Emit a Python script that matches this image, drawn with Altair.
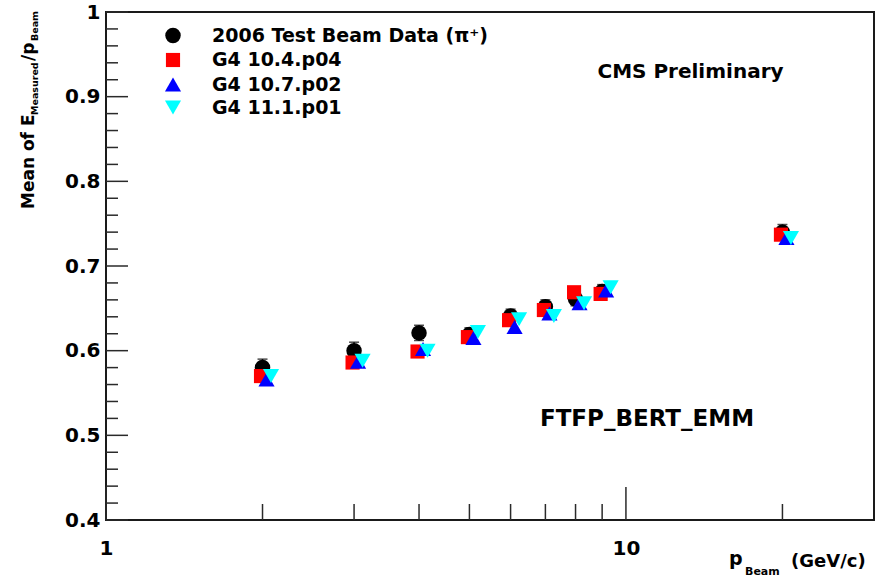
import altair as alt
import pandas as pd

# Beam momenta (GeV/c)
p_beam = [2, 3, 4, 5, 6, 7, 8, 9, 20]

# Mean of E_measured / p_beam
tb2006_mean = [0.580, 0.600, 0.621, 0.619, 0.641, 0.652, 0.661, 0.670, 0.740]
tb2006_err = [0.010, 0.010, 0.009, 0.008, 0.008, 0.008, 0.008, 0.008, 0.009]
g4_10_4 = [0.570, 0.586, 0.599, 0.616, 0.636, 0.648, 0.669, 0.667, 0.737]
g4_10_7 = [0.566, 0.587, 0.602, 0.615, 0.628, 0.644, 0.656, 0.671, 0.733]
g4_11_1 = [0.570, 0.588, 0.600, 0.622, 0.637, 0.641, 0.656, 0.675, 0.733]

series_names = ["2006 Test Beam Data (π⁺)", "G4 10.4.p04", "G4 10.7.p02", "G4 11.1.p01"]
series_values = [tb2006_mean, g4_10_4, g4_10_7, g4_11_1]
series_colors = ["#000000", "#ff0000", "#0000ff", "#00ffff"]
series_shapes = ["circle", "square", "triangle-up", "triangle-down"]
series_sizes = [240, 200, 260, 260]
series_dx = [0, -1.5, 4, 8.5]

# Axis tick positions
y_major = [0.4, 0.5, 0.6, 0.7, 0.8, 0.9, 1.0]
y_minor = [0.42, 0.44, 0.46, 0.48, 0.52, 0.54, 0.56, 0.58, 0.62, 0.64, 0.66, 0.68,
           0.72, 0.74, 0.76, 0.78, 0.82, 0.84, 0.86, 0.88, 0.92, 0.94, 0.96, 0.98]
x_major = [1, 10]
x_minor = [2, 3, 4, 5, 6, 7, 8, 9, 20]

FONT = "DejaVu Sans"
TICK = "#2a2a2a"
W, H = 768, 508

xs = alt.Scale(type="log", domain=[1, 30], nice=False)
ys = alt.Scale(domain=[0.4, 1.0], nice=False, zero=False)

x_axis = alt.Axis(values=x_major, format="d", title=None, grid=False, domain=False,
                  ticks=False, tickSize=0, labelPadding=18, labelFont=FONT,
                  labelFontWeight="bold", labelFontSize=20, labelColor="black",
                  labelFlush=False)
y_axis = alt.Axis(values=y_major, format="~g", title=None, grid=False, domain=False,
                  ticks=False, tickSize=0, labelPadding=6, labelFont=FONT,
                  labelFontWeight="bold", labelFontSize=20, labelColor="black",
                  labelBaseline="middle", labelFlush=False)


def X(field):
    return alt.X(field, type="quantitative", scale=xs, axis=x_axis)


def Y(field):
    return alt.Y(field, type="quantitative", scale=ys, axis=y_axis)


layers = []

# Inward tick marks on the left and bottom frame edges
for vals, length in [(y_major, 22), (y_minor, 12)]:
    layers.append(
        alt.Chart(pd.DataFrame({"v": vals}))
        .mark_rule(color=TICK, strokeWidth=1.5)
        .encode(y=Y("v"), x=alt.value(0), x2=alt.value(length))
    )
for vals, length in [(x_major, 33), (x_minor, 16)]:
    layers.append(
        alt.Chart(pd.DataFrame({"v": vals}))
        .mark_rule(color=TICK, strokeWidth=1.5)
        .encode(x=X("v"), y=alt.value(H), y2=alt.value(H - length))
    )

# Test-beam error bars
err_df = pd.DataFrame({"p": p_beam, "mean": tb2006_mean, "err": tb2006_err})
err_df["lo"] = err_df["mean"] - err_df["err"]
err_df["hi"] = err_df["mean"] + err_df["err"]
layers.append(
    alt.Chart(err_df).mark_rule(color="black", strokeWidth=1.5)
    .encode(x=X("p"), y=Y("lo"), y2="hi")
)
for end in ["lo", "hi"]:
    layers.append(
        alt.Chart(err_df).mark_tick(color="black", orient="horizontal", size=10, thickness=1.5)
        .encode(x=X("p"), y=Y(end))
    )

# Data series
for name, vals, col, shp, sz, dx in zip(series_names, series_values, series_colors,
                                        series_shapes, series_sizes, series_dx):
    df = pd.DataFrame({"p": p_beam, "v": vals, "series": name})
    layers.append(
        alt.Chart(df)
        .mark_point(filled=True, shape=shp, size=sz, color=col, opacity=1,
                    strokeWidth=0, xOffset=dx)
        .encode(x=X("p"), y=Y("v"))
    )

# Legend box entries
LEG_SYM_X, LEG_TXT_X = 67, 106
leg_sym_y = [23.5, 48, 72.5, 95.5]
leg_txt_y = [29.5, 54, 79, 102]
for i, (name, col, shp, sz) in enumerate(zip(series_names, series_colors,
                                              series_shapes, series_sizes)):
    row = pd.DataFrame({"label": [name]})
    layers.append(
        alt.Chart(row)
        .mark_point(filled=True, shape=shp, size=sz, color=col, opacity=1, strokeWidth=0)
        .encode(x=alt.value(LEG_SYM_X), y=alt.value(leg_sym_y[i]))
    )
    layers.append(
        alt.Chart(row)
        .mark_text(font=FONT, fontWeight="bold", fontSize=19, align="left",
                   baseline="alphabetic", color="black")
        .encode(text="label:N", x=alt.value(LEG_TXT_X), y=alt.value(leg_txt_y[i]))
    )


def label(txt, x, y, size, angle=0, align="left"):
    return (
        alt.Chart(pd.DataFrame({"t": [txt]}))
        .mark_text(font=FONT, fontWeight="bold", fontSize=size, align=align,
                   baseline="alphabetic", angle=angle, color="black")
        .encode(text="t:N", x=alt.value(x), y=alt.value(y))
    )


# Annotations
layers.append(label("CMS Preliminary", 584.5, 66, 20, align="center"))
layers.append(label("FTFP_BERT_EMM", 541, 414, 23, align="center"))

# Axis title (x): p_Beam (GeV/c)
layers.append(label("p", 623, 553, 19))
layers.append(label("Beam", 639, 563, 11))
layers.append(label("(GeV/c)", 685, 555, 18))

# Axis title (y): Mean of E_Measured / p_Beam, rotated
layers.append(label("Mean of E", -72, 197, 17, angle=270))
layers.append(label("Measured", -68, 103, 9.5, angle=270))
layers.append(label("/p", -72, 49, 17, angle=270))
layers.append(label("Beam", -68, 29, 9.5, angle=270))

chart = (
    alt.layer(*layers)
    .properties(
        width=W,
        height=H,
        autosize=alt.AutoSizeParams(type="none"),
        padding={"left": 106, "top": 12, "right": 2, "bottom": 60},
        background="white",
    )
    .configure_view(stroke="#1a1a1a", strokeWidth=2)
)

chart.save("out.html", embed_options={"renderer": "svg", "actions": False})
